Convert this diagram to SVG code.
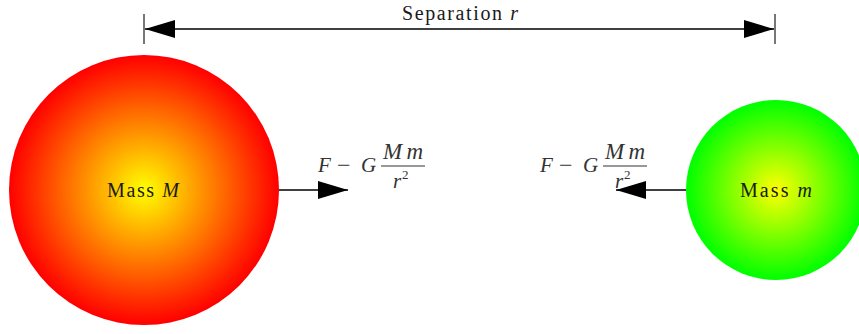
<svg xmlns="http://www.w3.org/2000/svg" width="859" height="334" viewBox="0 0 859 334">
<defs>
  <radialGradient id="gBig" cx="0.5" cy="0.5" r="0.5">
    <stop offset="0" stop-color="#ffff00"/>
    <stop offset="1" stop-color="#ff0000"/>
  </radialGradient>
  <radialGradient id="gSmall" cx="0.5" cy="0.5" r="0.5">
    <stop offset="0" stop-color="#ffff00"/>
    <stop offset="1" stop-color="#00ff00"/>
  </radialGradient>
  <marker id="ah" viewBox="0 0 30 18" refX="30" refY="9" markerWidth="30" markerHeight="18" markerUnits="userSpaceOnUse" orient="auto-start-reverse">
    <path d="M0,0 L30,9 L0,18 Z" fill="#000"/>
  </marker>
</defs>
<style>
  text { font-family: "Liberation Serif", "DejaVu Serif", serif; fill: #1a1a1a; }
  .lbl { font-size: 20px; }
  .math { font-size: 21px; font-style: italic; fill: #333; }
  .frac { font-size: 23px; font-style: italic; fill: #333; }
  .op { font-size: 24px; fill: #333; }
  .sup { font-size: 13px; fill: #333; }
  .line { stroke: #000; stroke-width: 1.6; fill: none; }
  .tick { stroke: #777; stroke-width: 2; }
</style>

<g id="mass-M">
  <circle cx="144" cy="190" r="135" fill="url(#gBig)"/>
  <text class="lbl" x="107" y="197" textLength="72" lengthAdjust="spacing">Mass <tspan font-style="italic">M</tspan></text>
</g>

<g id="mass-m">
  <circle cx="776" cy="190" r="90" fill="url(#gSmall)"/>
  <text class="lbl" x="740" y="197" textLength="72" lengthAdjust="spacing">Mass <tspan font-style="italic">m</tspan></text>
</g>

<g id="separation-label">
  <text class="lbl" x="402" y="20" textLength="116" lengthAdjust="spacing">Separation <tspan font-style="italic">r</tspan></text>
</g>

<g id="force-left-label">
  <text class="math" x="318" y="172">F</text>
  <text class="op" x="337" y="173">−</text>
  <text class="math" x="361" y="172">G</text>
  <text class="frac" x="383" y="159" textLength="40" lengthAdjust="spacing">Mm</text>
  <line x1="381" y1="166" x2="425" y2="166" stroke="#333" stroke-width="1.2"/>
  <text class="math" x="393" y="188" font-size="19">r</text>
  <text class="sup" x="402" y="179">2</text>
</g>

<g id="force-right-label">
  <text class="math" x="540" y="172">F</text>
  <text class="op" x="559" y="173">−</text>
  <text class="math" x="583" y="172">G</text>
  <text class="frac" x="605" y="159" textLength="40" lengthAdjust="spacing">Mm</text>
  <line x1="603" y1="166" x2="647" y2="166" stroke="#333" stroke-width="1.2"/>
  <text class="math" x="615" y="188" font-size="19">r</text>
  <text class="sup" x="624" y="179">2</text>
</g>

<g id="connectors">
  <line class="tick" x1="144" y1="14" x2="144" y2="44"/>
  <line class="tick" x1="775" y1="14" x2="775" y2="44"/>
  <line class="line" x1="145" y1="29" x2="774" y2="29" marker-start="url(#ah)" marker-end="url(#ah)"/>
  <line class="line" x1="279" y1="190" x2="348" y2="190" marker-end="url(#ah)"/>
  <line class="line" x1="686" y1="190" x2="616" y2="190" marker-end="url(#ah)"/>
</g>
</svg>
